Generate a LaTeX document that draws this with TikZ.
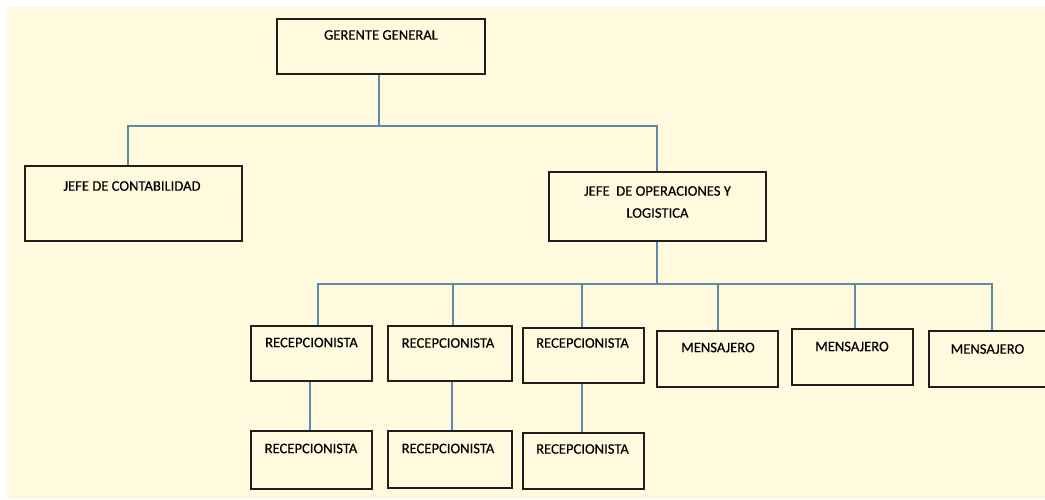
\documentclass[tikz,border=0pt]{standalone}
\usepackage{fontspec}
\setmainfont{Carlito}
\newfontfamily\lblfont{Carlito}[FakeBold=0.35]
\definecolor{paper}{RGB}{255,250,221}
\definecolor{wire}{RGB}{96,138,172}
\definecolor{ink}{RGB}{30,30,30}
\begin{document}
\begin{tikzpicture}[x=1pt,y=-1pt,
  box/.style={draw=ink, line width=1.5pt, inner sep=0pt},
  conn/.style={draw=wire, line width=1.6pt},
  lbl/.style={font=\lblfont\fontsize{14.6}{16}\selectfont, inner sep=0pt, text=black, align=center}]
% page
\fill[white] (0,0) rectangle (1045,499);
\fill[paper] (7,7) rectangle (1045,499);
\useasboundingbox (0,0) rectangle (1045,499);
\begin{scope}
\clip (0,0) rectangle (1045,499);
% boxes
\node[box, minimum width=208pt, minimum height=55pt] (gg) at (381,46.5) {};
\node[box, minimum width=217pt, minimum height=75pt] (jc) at (133.5,203.5) {};
\node[box, minimum width=217pt, minimum height=69pt] (jo) at (657.5,206.5) {};
\node[box, minimum width=121pt, minimum height=55pt] (r1) at (311.5,353.5) {};
\node[box, minimum width=124pt, minimum height=55pt] (r2) at (450,353.5) {};
\node[box, minimum width=121pt, minimum height=55pt] (r3) at (583.5,355.5) {};
\node[box, minimum width=121pt, minimum height=56pt] (m1) at (717.5,359) {};
\node[box, minimum width=121pt, minimum height=56pt] (m2) at (852.5,357) {};
\node[box, minimum width=124pt, minimum height=56pt] (m3) at (991,359) {};
\node[box, minimum width=121pt, minimum height=58pt] (r1b) at (311.5,460) {};
\node[box, minimum width=124pt, minimum height=57pt] (r2b) at (450,459.5) {};
\node[box, minimum width=121pt, minimum height=56pt] (r3b) at (583.5,461) {};
% labels
\node[lbl] (gg-t) at (381,35) {GERENTE GENERAL};
\node[lbl] (jc-t) at (132,186) {JEFE DE CONTABILIDAD};
\node[lbl] (jo-t1) at (657.5,191) {JEFE\ \ DE OPERACIONES Y};
\node[lbl] (jo-t2) at (657.5,213) {LOGISTICA};
\node[lbl] (r1-t) at (311.5,342.5) {RECEPCIONISTA};
\node[lbl] (r2-t) at (448,343) {RECEPCIONISTA};
\node[lbl] (r3-t) at (582.5,343) {RECEPCIONISTA};
\node[lbl] (m1-t) at (718,347.5) {MENSAJERO};
\node[lbl] (m2-t) at (852,346.5) {MENSAJERO};
\node[lbl] (m3-t) at (987.5,349) {MENSAJERO};
\node[lbl] (r1b-t) at (311,448.5) {RECEPCIONISTA};
\node[lbl] (r2b-t) at (448,448.5) {RECEPCIONISTA};
\node[lbl] (r3b-t) at (582.5,449) {RECEPCIONISTA};
% bus junctions
\coordinate (bus1) at (379,126);
\coordinate (bus2) at (657,284);
% connectors
\draw[conn] ([xshift=-2pt]gg.south) -- (bus1);
\draw[conn] (bus1) -| ([xshift=-5.5pt]jc.north);
\draw[conn] (bus1) -| ([xshift=-0.5pt]jo.north);
\draw[conn] ([xshift=-0.5pt]jo.south) -- (bus2);
\draw[conn] (bus2) -| ([xshift=6.5pt]r1.north);
\draw[conn] (bus2) -| ([xshift=3pt]r2.north);
\draw[conn] (bus2) -| ([xshift=-1.5pt]r3.north);
\draw[conn] (bus2) -| ([xshift=0.5pt]m1.north);
\draw[conn] (bus2) -| ([xshift=2.5pt]m2.north);
\draw[conn] (bus2) -| ([xshift=1pt]m3.north);
\draw[conn] ([xshift=-1.5pt]r1.south) -- ([xshift=-1.5pt]r1b.north);
\draw[conn] ([xshift=2pt]r2.south) -- ([xshift=2pt]r2b.north);
\draw[conn] ([xshift=-1.5pt]r3.south) -- ([xshift=-1.5pt]r3b.north);
\end{scope}
\end{tikzpicture}
\end{document}
